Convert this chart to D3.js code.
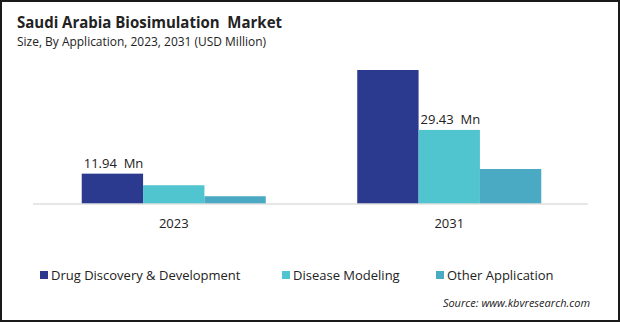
<!DOCTYPE html>
<html><head><meta charset="utf-8">
<script src="https://cdn.jsdelivr.net/npm/d3@7"></script>
<style>
html,body{margin:0;padding:0;background:#fff;}
svg{display:block;font-family:"Open Sans","Noto Sans",sans-serif;}
</style></head>
<body>
<svg id="chart" width="620" height="322"></svg>
<script>
const years = ["2023", "2031"];
const seriesNames = ["Drug Discovery & Development", "Disease Modeling", "Other Application"];
const drugValues = [11.94, 53.4];
const diseaseValues = [7.3, 29.43];
const otherValues = [2.9, 13.8];
const labelText = [["11.94 Mn", null, null], [null, "29.43 Mn", null]];
const colors = ["#2b3a8f", "#50c4cf", "#4aa9c3"];

const svg = d3.select("#chart");
const W = 620, H = 322;

svg.append("rect").attr("x", 1).attr("y", 1).attr("width", W - 2).attr("height", H - 2)
  .attr("fill", "#fff").attr("stroke", "#1a1a1a").attr("stroke-width", 2);

svg.append("text").attr("x", 17).attr("y", 28).attr("font-size", 15.5).attr("font-weight", 700)
  .attr("fill", "#222").attr("textLength", 265).attr("lengthAdjust", "spacingAndGlyphs")
  .text("Saudi Arabia Biosimulation  Market").style("white-space", "pre");
svg.append("text").attr("x", 17).attr("y", 46).attr("font-size", 12)
  .attr("fill", "#222").attr("textLength", 249).attr("lengthAdjust", "spacingAndGlyphs")
  .text("Size, By Application, 2023, 2031 (USD Million)");

const baseY = 203.5;
const x = d3.scaleBand().domain(years).range([36, 587]).paddingInner(0.332).paddingOuter(0.166);
const xs = d3.scaleBand().domain(seriesNames).range([0, x.bandwidth()]);
const y = d3.scaleLinear().domain([0, 60]).range([baseY, baseY - 150]);

const rows = years.map((yr, i) => ({
  year: yr,
  vals: [drugValues[i], diseaseValues[i], otherValues[i]].map((v, j) => ({ name: seriesNames[j], v, j, label: labelText[i][j] }))
}));

const g = svg.append("g");
const groups = g.selectAll("g.grp").data(rows).join("g").attr("class", "grp")
  .attr("transform", d => `translate(${x(d.year)},0)`);
groups.selectAll("rect").data(d => d.vals).join("rect")
  .attr("x", d => xs(d.name)).attr("width", xs.bandwidth())
  .attr("y", d => y(d.v)).attr("height", d => y(0) - y(d.v))
  .attr("fill", d => colors[d.j]);
groups.selectAll("text.lbl").data(d => d.vals.filter(v => v.label)).join("text").attr("class", "lbl")
  .attr("x", d => xs(d.name) + 2).attr("y", d => y(d.v) - 6)
  .attr("font-size", 13).attr("fill", "#222").style("white-space", "pre")
  .text(d => d.label.replace(" ", "  "));

svg.append("line").attr("x1", 33).attr("x2", 588).attr("y1", baseY + 0.5).attr("y2", baseY + 0.5)
  .attr("stroke", "#d0d0d0").attr("stroke-width", 1.2);

const xAxis = d3.axisBottom(x).tickSize(0).tickPadding(0);
const ax = svg.append("g").attr("transform", `translate(0,${baseY})`).call(xAxis);
ax.select(".domain").remove();
ax.selectAll("text").attr("font-size", 13).attr("fill", "#222").attr("dy", 0).attr("y", 24.5)
  .style("font-family", '"Open Sans","Noto Sans",sans-serif');

const legendX = [40, 282, 436];
const lg = svg.selectAll("g.leg").data(seriesNames).join("g").attr("class", "leg")
  .attr("transform", (d, i) => `translate(${legendX[i]},275)`);
lg.append("rect").attr("x", 0).attr("y", -4).attr("width", 8).attr("height", 8).attr("fill", (d, i) => colors[i]);
lg.append("text").attr("x", 11).attr("y", 4.5).attr("font-size", 13).attr("fill", "#222").text(d => d);

svg.append("text").attr("x", 590).attr("y", 307).attr("text-anchor", "end")
  .attr("font-size", 11).attr("font-style", "italic").attr("fill", "#222")
  .text("Source: www.kbvresearch.com");
</script>
</body></html>
